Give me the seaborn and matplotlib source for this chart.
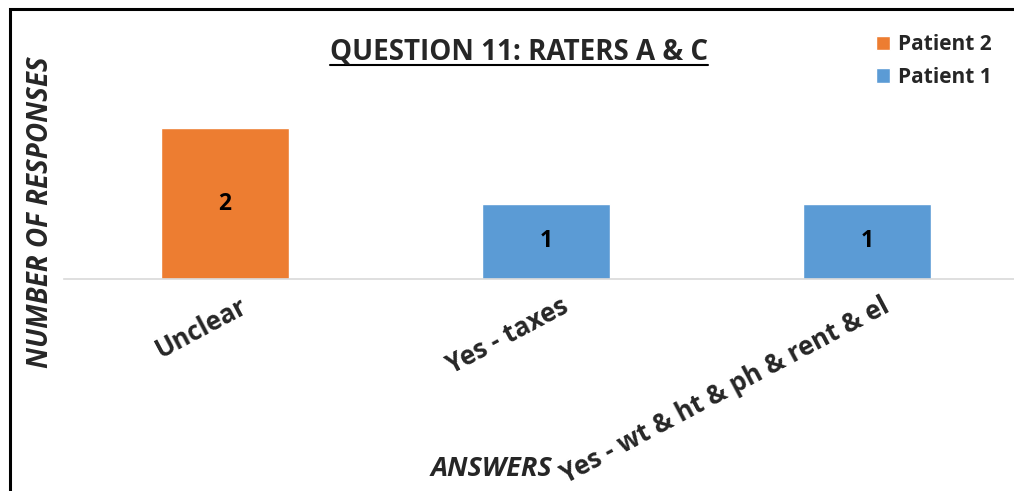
import pandas as pd
import seaborn as sns
import matplotlib.pyplot as plt
import matplotlib.transforms as mtransforms
from matplotlib.patches import Rectangle
from matplotlib.lines import Line2D

# data
answers = ["Unclear", "Yes - taxes", "Yes - wt & ht & ph & rent & el"]
patient2 = [2, 0, 0]
patient1 = [0, 1, 1]
series_order = ["Patient 2", "Patient 1"]
colors = {"Patient 2": "#ED7D31", "Patient 1": "#5B9BD5"}

rows = []
for a, v in zip(answers, patient2):
    if v:
        rows.append({"answer": a, "series": "Patient 2", "count": v})
for a, v in zip(answers, patient1):
    if v:
        rows.append({"answer": a, "series": "Patient 1", "count": v})
df = pd.DataFrame(rows)

sns.set_style("white")
plt.rcParams['font.family'] = ['Open Sans', 'DejaVu Sans']

fig = plt.figure(figsize=(10.14, 4.91), dpi=100)
ax = fig.add_axes([0.0636, 0.4318, 0.9497, 0.4611])

sns.barplot(data=df, x="answer", y="count", hue="series", order=answers,
            hue_order=series_order, palette=colors, dodge=False, width=0.4,
            ax=ax, saturation=1)

ax.set_xlim(-0.5, 2.5)
ax.set_ylim(0, 3)

for c in ax.containers:
    labels = [f"{int(b.get_height())}" if b.get_height() > 0 else "" for b in c]
    ax.bar_label(c, labels=labels, label_type='center', fontsize=16.5, fontweight='bold', color='black')

for s in ['top', 'right', 'left']:
    ax.spines[s].set_visible(False)
ax.spines['bottom'].set_color('#D9D9D9')
ax.spines['bottom'].set_linewidth(1.2)
ax.set_yticks([])
ax.tick_params(axis='x', length=0, pad=10)
ax.set_xlabel("")
ax.set_ylabel("")

offset = mtransforms.ScaledTranslation(0.14, 0, fig.dpi_scale_trans)
for lbl in ax.get_xticklabels():
    lbl.set_rotation(28)
    lbl.set_ha('right')
    lbl.set_rotation_mode('anchor')
    lbl.set_fontsize(18.5)
    lbl.set_fontweight('bold')
    lbl.set_transform(lbl.get_transform() + offset)

fig.text(0.040, 0.568, "NUMBER OF RESPONSES", rotation=90, ha='center', va='center',
         fontsize=20, fontweight='bold', fontstyle='italic')
fig.text(0.485, 0.045, "ANSWERS", ha='center', va='center',
         fontsize=19.5, fontweight='bold', fontstyle='italic')

title = fig.text(0.512, 0.895, "QUESTION 11: RATERS A & C", ha='center', va='center',
                 fontsize=20, fontweight='bold')

leg = ax.legend(loc='upper right', bbox_to_anchor=(0.997, 0.968), bbox_transform=fig.transFigure,
                frameon=False, fontsize=15, handlelength=0.7, handleheight=0.7,
                handletextpad=0.4, labelspacing=0.55)
for t in leg.get_texts():
    t.set_fontweight('bold')

# underline title
fig.canvas.draw()
bb = title.get_window_extent().transformed(fig.transFigure.inverted())
fig.add_artist(Line2D([bb.x0, bb.x1], [bb.y0 + 0.002, bb.y0 + 0.002], color='black', lw=1.5,
                      transform=fig.transFigure))

# outer frame
fig.add_artist(Rectangle((10 / 1014, -0.1), 1.1, 1.1 - 9 / 491, transform=fig.transFigure,
                         fill=False, edgecolor='black', lw=2.2, clip_on=False))

plt.savefig('out.png', dpi=100)
